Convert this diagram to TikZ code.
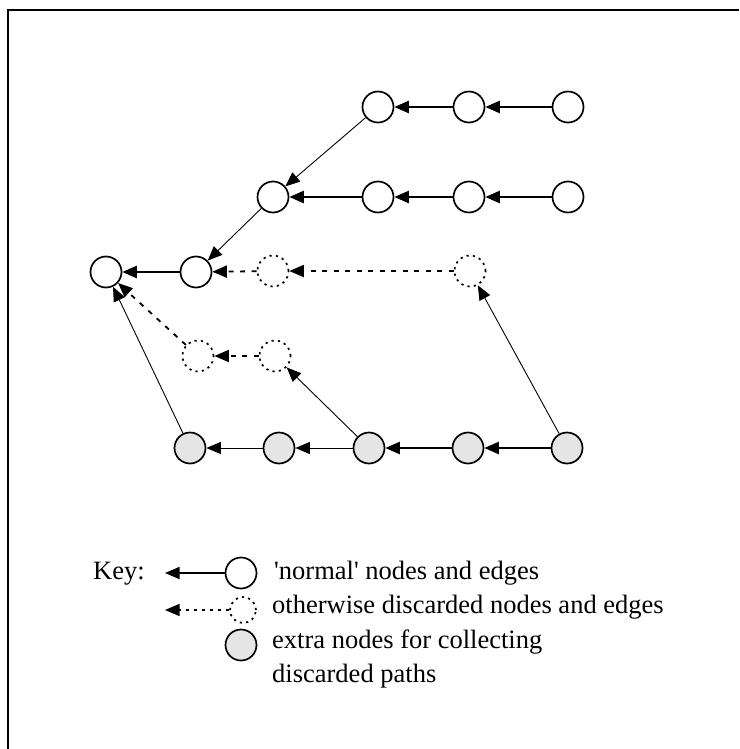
\documentclass[tikz,border=0pt]{standalone}
\usepackage{fontspec}
\setmainfont{Liberation Serif}
\newfontfamily\keyfont{Liberation Serif}
\usetikzlibrary{arrows.meta}
\begin{document}
\begin{tikzpicture}[x=1pt,y=-1pt,
  nrm/.style={circle, draw, line width=1.7pt, minimum size=31pt, inner sep=0pt},
  dsc/.style={nrm, dash pattern=on 2.2pt off 4.2pt},
  xtr/.style={nrm, fill=black!10},
  tip/.style={-{Triangle[length=14.5pt,width=12pt]}},
  heavy/.style={tip, line width=2.4pt},
  light/.style={tip, line width=0.9pt},
  broken/.style={tip, line width=1.8pt, dash pattern=on 5pt off 6.5pt},
  lbl/.style={anchor=base west, inner sep=0pt, font=\keyfont\fontsize{26.5}{32}\selectfont}]
\useasboundingbox (0,0) rectangle (739,749);
% frame edges
\draw[line width=1.4pt] (8,749) -- (8,10) -- (739,10);

% row 1
\node[nrm] (a1) at (378,107) {};
\node[nrm] (a2) at (469,107) {};
\node[nrm] (a3) at (568,107) {};
% row 2
\node[nrm] (b1) at (273,197) {};
\node[nrm] (b2) at (378,197) {};
\node[nrm] (b3) at (469,197) {};
\node[nrm] (b4) at (568,197) {};
% row 3
\node[nrm] (c1) at (106,272) {};
\node[nrm] (c2) at (196,272) {};
\node[dsc] (c3) at (273,271) {};
\node[dsc] (c4) at (470,271) {};
% row 4
\node[dsc] (d1) at (198,356) {};
\node[dsc] (d2) at (275,356) {};
% row 5 (collecting nodes)
\node[xtr] (e1) at (190,448) {};
\node[xtr] (e2) at (279,448) {};
\node[xtr] (e3) at (369,448) {};
\node[xtr] (e4) at (468,448) {};
\node[xtr] (e5) at (567,448) {};

% edges
\draw[heavy] (a2) -- (a1);
\draw[heavy] (a3) -- (a2);
\draw[light] (a1) -- (b1);
\draw[heavy] (b2) -- (b1);
\draw[heavy] (b3) -- (b2);
\draw[heavy] (b4) -- (b3);
\draw[light] (b1) -- (c2);
\draw[heavy] (c2) -- (c1);
\draw[broken] (c3) -- (c2);
\draw[broken] (c4) -- (c3);
\draw[broken] (d2) -- (d1);
\draw[broken] (d1) -- (c1);
\draw[light] (e1) -- (c1);
\draw[light] (e2) -- (e1);
\draw[light] (e3) -- (e2);
\draw[light] (e3) -- (d2);
\draw[heavy] (e4) -- (e3);
\draw[heavy] (e5) -- (e4);
\draw[light] (e5) -- (c4);

% key
\node[lbl] (keyt) at (93,579) {Key:};
\node[nrm] (k1) at (241,573) {};
\coordinate (k1e) at (165,573);
\draw[heavy, line width=1.6pt] (k1) -- (k1e);
\node[lbl] (t1) at (274,579) {'normal' nodes and edges};
\node[dsc, minimum size=26pt] (k2) at (243,610) {};
\coordinate (k2e) at (165,610);
\draw[broken, line width=1.5pt, dash pattern=on 3pt off 5pt] (k2) -- (k2e);
\node[lbl] (t2) at (272,613) {otherwise discarded nodes and edges};
\node[xtr] (k3) at (241,645) {};
\node[lbl] (t3) at (272,648) {extra nodes for collecting};
\node[lbl] (t4) at (272,682) {discarded paths};
\end{tikzpicture}
\end{document}
